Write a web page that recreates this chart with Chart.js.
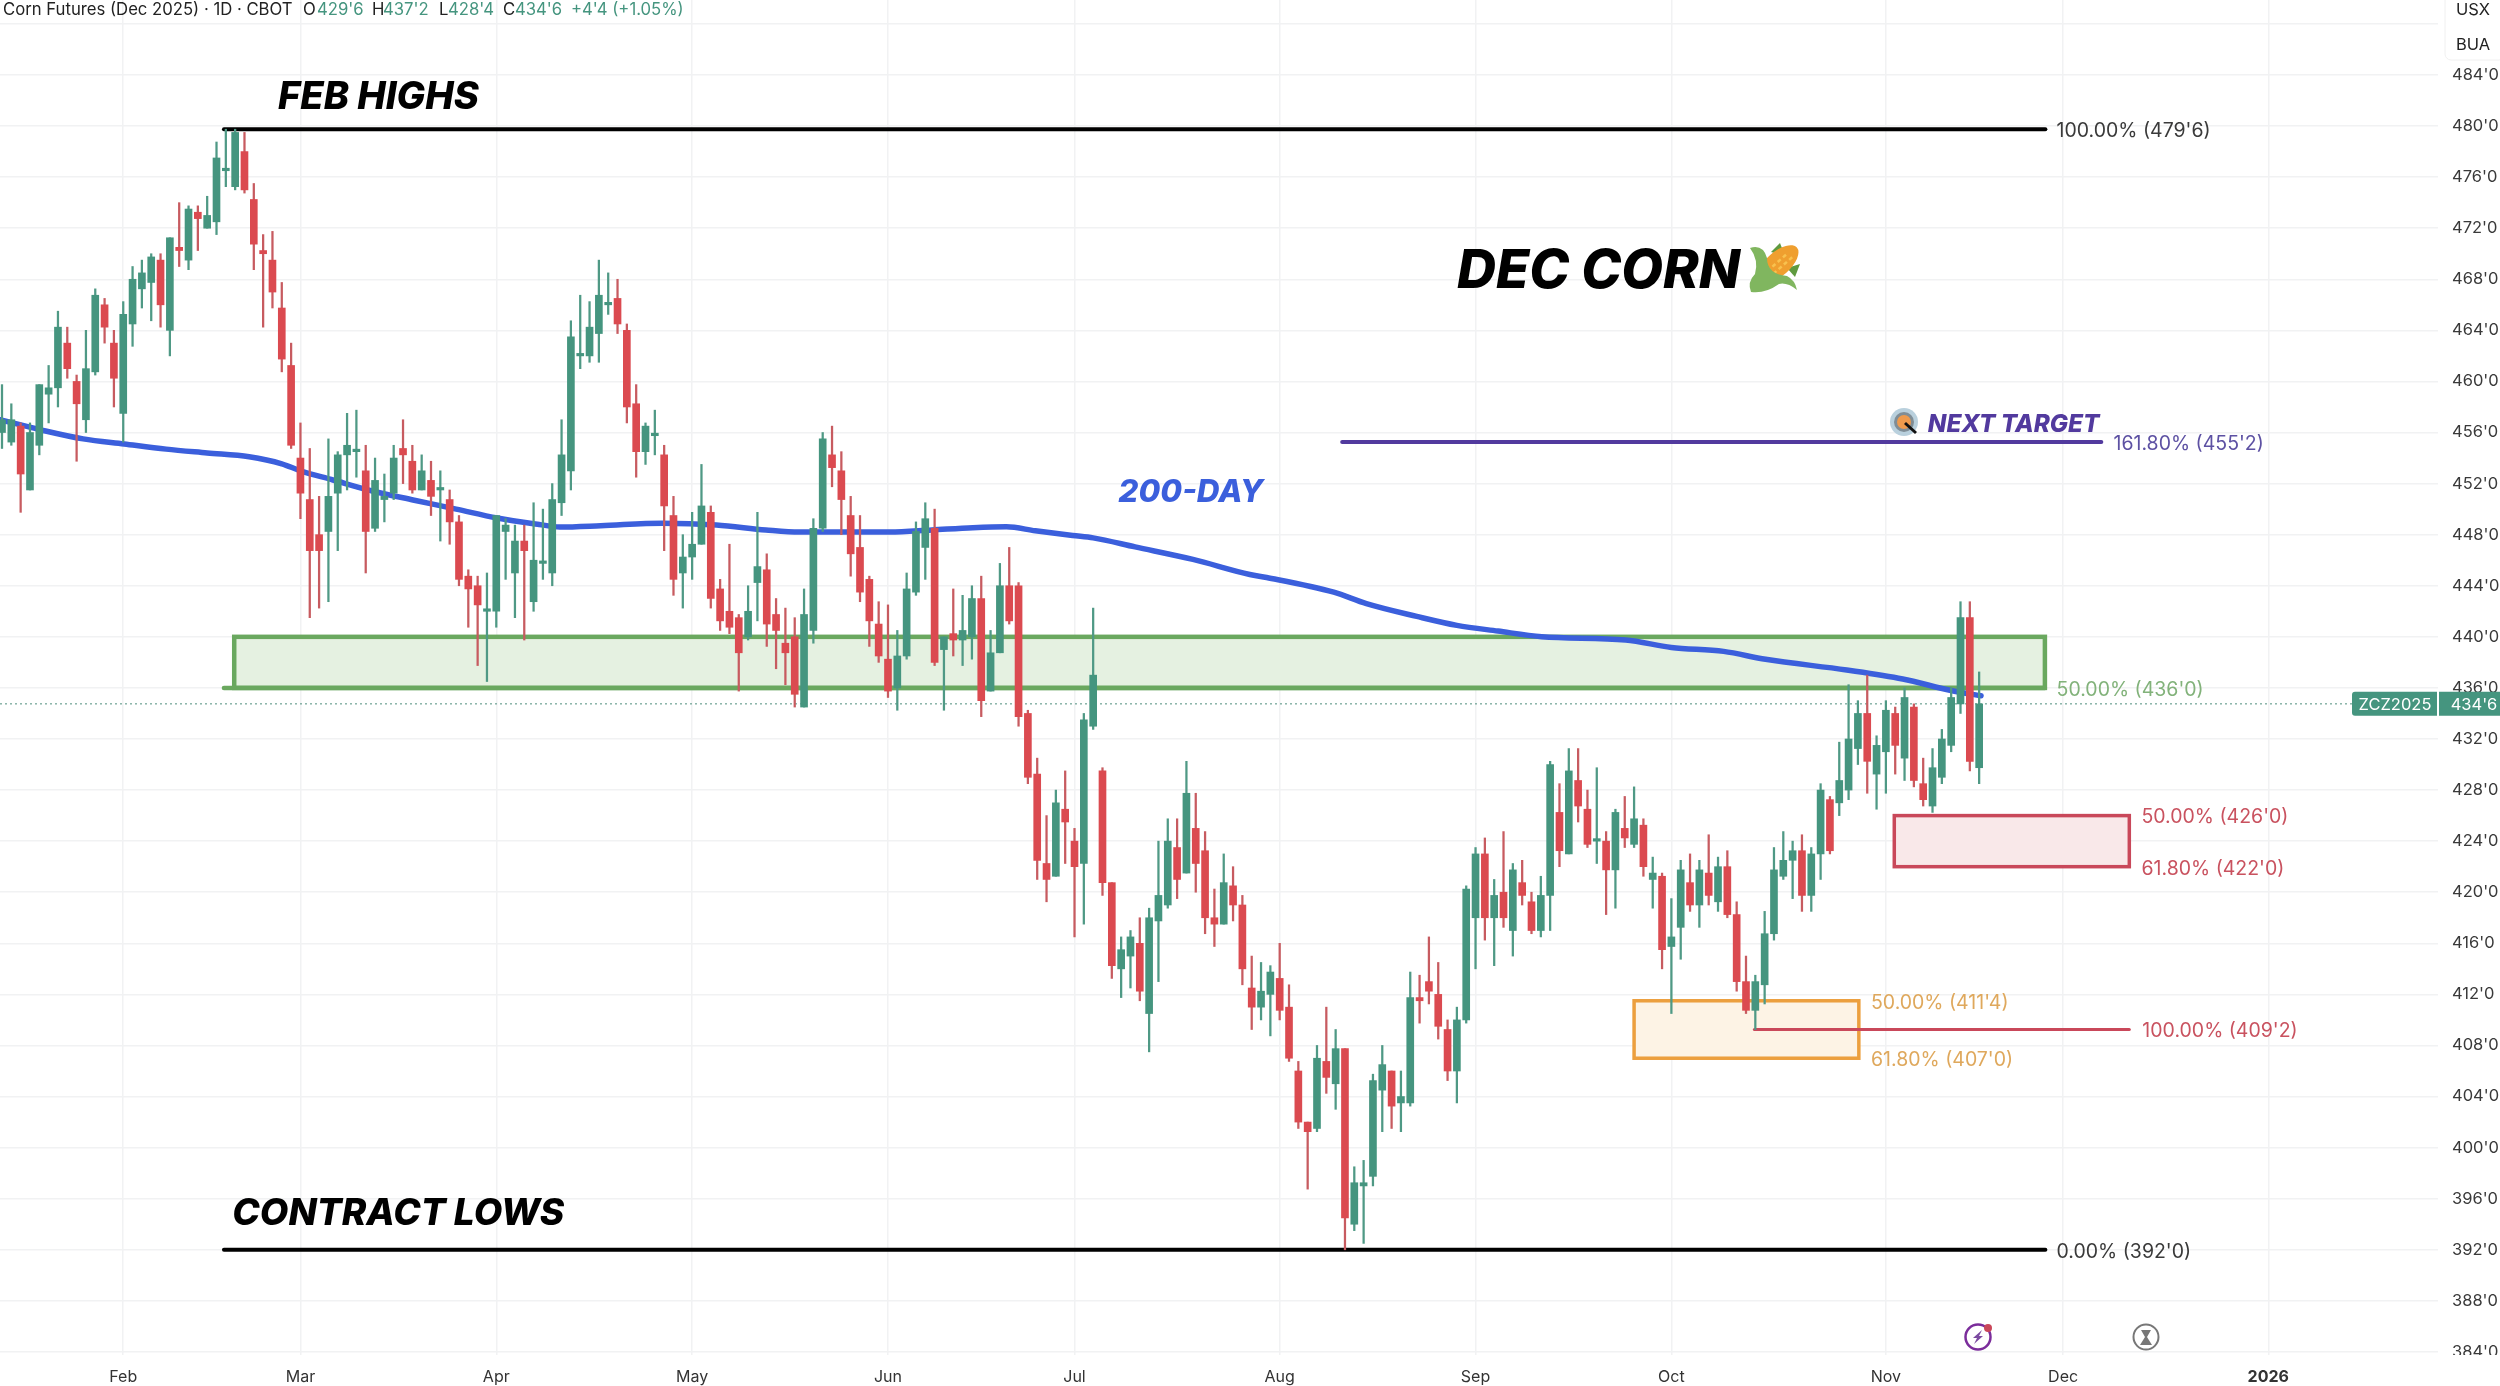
<!DOCTYPE html>
<html><head><meta charset="utf-8">
<style>html,body{margin:0;padding:0;background:#fff}canvas{display:block}</style>
<script src="https://cdn.jsdelivr.net/npm/chart.js@4/dist/chart.umd.js"></script>
</head><body><canvas id="c" width="2500" height="1386"></canvas>
<script>
const opens=[456,455.25,456.5,451.5,455,459,459.5,463,460,457,
460.75,466,463,457.5,464.5,467.25,467.75,469.5,464,470.5,
469.5,473.25,472,472.5,476.5,475.25,478,474.25,470.25,469.5,
465.75,461.25,454,450.75,448,448.25,451.25,454.25,454.5,453,
448.5,450.75,451.25,454.75,453.75,451.5,452.25,451.5,450.75,449,
444.75,444,442,442,448.25,445,447.5,442.75,445.75,445,
450.5,453,462,462,463.75,466,466.5,464,458.25,454.5,
455.75,454.25,449.5,445,446.25,447.25,449.75,443.75,442,441.5,
440,444.25,445.25,441.75,439.5,440,434.5,440.5,448.5,454.25,
453,449.5,447,444.5,441,438.25,436,438.5,443.5,447,
448.5,439,440.25,439.75,440,443,435.75,438.75,444,444,
434,429.25,422.25,421.25,426.5,424,422.25,433,429.5,420.75,
414,415,416,410.5,417.75,419,423.5,421.5,425,423.25,
418,417.5,420.5,419,412.5,411,412,413.25,411,406,
402,401.5,406.75,405,407.75,394,397,397.75,404.5,406,
403.5,403.5,411.75,413,412,409.25,406,410,418,423,
418,420,417,420.75,419.25,417,419.75,426.25,423,428.75,
426.5,424,424,421.75,425,423.75,425.25,421,421.25,415.75,
417.25,420.75,419,421.5,419.25,422,418.25,413,410.75,412.75,
416.75,421.25,422.5,423.25,419.75,423,427.25,427,428,431.25,
434,429.25,431,434,430.5,434.5,428.5,426.75,429,431.5,
434.75,441.5,429.75];
const highs=[459.75,458.25,456.75,456.75,459.75,461.25,465.5,464.25,460.5,464,
467.25,466.5,464,466.25,469,469.5,470,470,471.25,474,
473.75,473.75,474.5,478.75,479.75,479.75,479.5,475.5,471.5,471.75,
467.75,463,456.75,454.75,451,455.5,454.5,457.5,457.75,455,
454,452.75,455,457,455,454.25,453.75,453,451.5,449.5,
445.25,444.75,445,449.5,449.25,448.75,448.75,450.5,450,452,
457,464.75,466.75,466.25,469.5,468.5,468,464.5,459.75,456.75,
457.75,455,451,448,449.75,453.5,450.25,444.5,447.25,441.75,
444,449.75,446.5,443,442.25,441.5,443.75,449.25,456,456.5,
454.5,451,449.5,444.75,442.75,442.5,440.5,445,449,450.5,
450,440,443.75,443.25,444,444.75,440.5,445.75,447,444.25,
434.25,430.5,426,428,429.5,425,434,442.25,429.75,420.75,
416.5,417,418,418.75,424,425.75,425.75,430.25,427.75,424.75,
420.25,423,422,419.75,415,414.5,414.25,416,412.75,406.75,
402,408,411,409.25,407.75,398.5,399,405.75,408,406,
406,413.75,413.5,416.5,414.5,410,411,420.5,423.5,424.25,
421,424.75,422.25,422.5,420,421.25,430.25,428.5,431.25,431.25,
428,429.75,424.75,426.5,427.5,428.25,425.75,422.75,421.5,419.5,
422.5,423,422.5,424.5,422.75,423.25,419.25,415,413.5,418.5,
423.5,424.75,424,424.5,423.5,428.5,427.5,431.75,436.25,435,
437,432.25,435,434.5,436,434.75,430.5,431.25,432.75,436,
442.75,442.75,437.25];
const lows=[454.75,455,449.75,451.5,454.25,456.75,458,460.25,453.75,456,
460.5,463,458,455.25,462.75,465.75,464.75,464.25,462,469,
468.75,470.25,472,471.5,475.25,475,474.75,468.75,464.25,465.75,
460.75,454.75,449.25,441.5,442.25,442.75,446.75,451.5,452.5,445,
448.25,449,450.75,452,451.25,451.5,449.5,447.5,447.25,444,
440.75,437.75,436.5,440.75,444.5,441.5,439.75,442,444.5,444,
449.5,451.5,461,461.5,461.5,465.25,463.75,456.75,452.5,453.5,
454.25,446.75,443.25,442.25,444.5,447.25,442.25,440.5,440.25,435.75,
439.75,441.25,439.25,437.5,436.25,434.5,434.5,439.5,448.25,451.75,
448,444.75,442.75,439.25,438,435.25,434.25,438.25,443.25,444.5,
437.75,434.25,438.5,437.75,438.25,433.75,435.75,438.75,441,433,
428.5,421,419.25,421.25,422.25,416.5,417.5,432.75,419.75,413.25,
411.75,412.5,411.5,407.5,413,418.75,419.5,421.5,420,416.75,
415.75,417.5,417.75,412.75,409.25,410,408.75,410,406.75,401.5,
396.75,401.25,404.25,403,392,393.5,392.5,397,401.25,401.5,
401.25,403.25,409.75,411.25,408.5,405.25,403.5,409.75,414,416.25,
414.25,417.25,415,419,416.75,416.5,417,422,423,425.5,
423.5,422.25,418.25,418.75,423.5,423.5,421.25,418.75,414,410.5,
414.75,418.5,417.25,419,418.5,418,412.25,410.5,409.25,411.25,
416.25,421,419.5,418.5,418.5,421,423,426,427.25,430,
427.75,426.5,427.75,429.25,428.75,428.25,426.75,426.25,428.5,431,
434,429.5,428.5];
const closes=[457,457,452.75,456,459.75,459.5,464.25,461,458.25,461,
466.75,464.25,460.25,465.25,468,468.5,469.75,466,471.25,470.25,
473.5,472.75,473,477.5,476.5,479.5,475,470.75,470,467,
461.75,455,451.25,446.75,446.75,451,454.25,455,454.5,448.25,
452.25,451,454,454.25,451.5,453,451,451.5,449,444.5,
443.75,442.5,442,449.5,448.75,447.5,446.75,446,445.75,450.75,
454.25,463.5,462,464.25,466.75,466,464.5,458,454.5,456.5,
455.75,450.25,444.5,446.25,447.25,450.25,443,441.25,440.75,438.75,
442,445.5,441,440.5,438.75,435.5,441.75,448.5,455.5,453.25,
450.75,446.5,443.5,441.25,438.5,435.75,438.5,443.75,448.25,449.25,
438,440,439.75,440.5,443,435,438.75,444,441.25,433.75,
429,422.5,421,427,425.5,422,433.5,437,420.75,414.25,
415.5,416.5,412.25,418,419.75,424,421,427.75,422.25,418,
417.5,420.75,419,414,411,412.25,413.75,410.75,407,402,
401.25,407,405.5,407.75,394.5,397.25,397.25,405.25,406.5,403.25,
404,411.75,411.5,412.25,409.5,406,410,420.25,423,418,
419.75,418,421.75,419.75,417,419.75,430,423.25,429.5,426.75,
423.75,424,421.75,426.25,424.25,425.75,422,421.5,415.5,416.5,
421.75,419,421.75,419.75,422,418.25,413,410.75,413,416.75,
421.75,422.5,423.25,419.75,423,428,423.25,428.75,432,434,
430.25,431.5,434.25,431.5,435.25,428.75,427.25,429.75,432,435.25,
441.5,430.25,434.75];

const maIndex=[-0.2,4.2,8.7,13.1,17.6,22,26.5,30,32,35.4,39.8,44.2,48.7,53.1,57.6,59.8,64.2,70.8,76.6,81.9,85.5,95.2,99.7,104.1,107.7,110.8,114.8,117,121.5,127.7,133.8,135.6,142.8,146.3,151.7,156,160.4,165.1,174.1,179,184.6,189.1,197.8,203.8,209.1,212.2];
const maValues=[457,456.2,455.5,455.1,454.7,454.4,454.1,453.55,453,452.3,451.4,450.7,450,449.3,448.8,448.6,448.7,448.9,448.76,448.37,448.2,448.2,448.37,448.55,448.62,448.3,447.93,447.75,447.04,446.06,444.88,444.65,443.5,442.6,441.6,440.9,440.45,440.01,439.75,439.17,438.86,438.24,437.4,436.7,435.78,435.39];

const monthIndex=[13,32,53,74,95,115,137,158,179,202,221,243];
const monthLabels=['Feb','Mar','Apr','May','Jun','Jul','Aug','Sep','Oct','Nov','Dec','2026'];
const priceTicks=[384,388,392,396,400,404,408,412,416,420,424,428,432,436,440,444,448,452,456,460,464,468,472,476,480,484,488];

const GREEN='#45957f',RED='#db4a50',FONT='Inter, "Noto Sans", sans-serif';

const fibLines=[
 {x0:23.8,x1:219.1,y:479.75,color:'#000000',w:4},
 {x0:23.8,x1:219.1,y:392,color:'#000000',w:4},
 {x0:23.8,x1:219.05,y:436,color:'#6aa85f',w:4.5},
 {x0:143.7,x1:225.1,y:455.25,color:'#523a9e',w:4},
 {x0:187.9,x1:228.1,y:409.25,color:'#c9485a',w:3}
];
const zones=[
 {x0:24.9,x1:219.05,top:440,bottom:436,line:'#6aa85f',fill:'#e5f1e1',w:4.5},
 {x0:202.9,x1:228.1,top:426,bottom:422,line:'#c9485a',fill:'#f9e8e9',w:3.5},
 {x0:175,x1:199.1,top:411.5,bottom:407,line:'#ec9f3e',fill:'#fdf3e5',w:3.5}
];
const levelLabels=[
 {x:220.3,y:479.75,t:"100.00% (479'6)",c:'#3a3a3a'},
 {x:226.4,y:455.25,t:"161.80% (455'2)",c:'#5d51a3'},
 {x:220.3,y:436,t:"50.00% (436'0)",c:'#82b27a'},
 {x:229.4,y:426,t:"50.00% (426'0)",c:'#c9525f'},
 {x:229.4,y:422,t:"61.80% (422'0)",c:'#c9525f'},
 {x:229.5,y:409.25,t:"100.00% (409'2)",c:'#c9525f'},
 {x:200.4,y:411.5,t:"50.00% (411'4)",c:'#dfa85c'},
 {x:200.4,y:407,t:"61.80% (407'0)",c:'#dfa85c'},
 {x:220.3,y:392,t:"0.00% (392'0)",c:'#3a3a3a'}
];
const bigLabels=[
 {x:29.6,y:482.25,t:'FEB HIGHS',c:'#000',s:38},
 {x:24.7,y:394.85,t:'CONTRACT LOWS',c:'#000',s:37},
 {x:156,y:468.55,t:'DEC CORN',c:'#000',s:54},
 {x:119.7,y:451.28,t:'200-DAY',c:'#3b5fdc',s:31.5},
 {x:206.5,y:456.64,t:'NEXT TARGET',c:'#523a9e',s:24.3}
];
const lastPrice=434.75;

function corn(ctx,x,y){
 ctx.save();ctx.translate(x,y);
 ctx.fillStyle='#5f9a3f';
 ctx.beginPath();ctx.moveTo(-4,-16);ctx.lineTo(5,-25);ctx.lineTo(10,-12);ctx.fill();
 ctx.beginPath();ctx.moveTo(12,0);ctx.lineTo(25,-4);ctx.lineTo(20,9);ctx.fill();
 ctx.save();ctx.rotate(-0.72);ctx.fillStyle='#ef9f2f';
 ctx.beginPath();ctx.ellipse(5,-1,25,12,0,0,Math.PI*2);ctx.fill();
 ctx.fillStyle='#f8c24f';
 for(let i=-8;i<20;i+=7){ctx.fillRect(i,-4,4,2.5);ctx.fillRect(i+3,2,4,2.5);}
 ctx.restore();
 ctx.fillStyle='#80b65f';
 ctx.beginPath();ctx.moveTo(-25,-20);ctx.quadraticCurveTo(-12,-24,-8,-10);ctx.quadraticCurveTo(-8,6,12,8);
 ctx.quadraticCurveTo(20,12,22,22);ctx.quadraticCurveTo(12,14,4,16);ctx.quadraticCurveTo(-10,26,-24,24);
 ctx.quadraticCurveTo(-28,14,-20,6);ctx.quadraticCurveTo(-16,-8,-25,-20);ctx.fill();
 ctx.restore();
}
function target(ctx,x,y){
 ctx.save();
 ctx.fillStyle='#b9d0dd';ctx.beginPath();ctx.arc(x,y,14,0,7);ctx.fill();
 ctx.fillStyle='#7f8d96';ctx.beginPath();ctx.arc(x,y,10,0,7);ctx.fill();
 ctx.fillStyle='#ee9a4d';ctx.beginPath();ctx.arc(x,y,7,0,7);ctx.fill();
 ctx.strokeStyle='#111';ctx.lineWidth=3;ctx.beginPath();ctx.moveTo(x+1,y+1);ctx.lineTo(x+12,y+11);ctx.stroke();
 ctx.restore();
}
function iconBolt(ctx,x,y){
 ctx.save();ctx.strokeStyle='#7b2d9b';ctx.lineWidth=2.5;ctx.beginPath();ctx.arc(x,y,12.5,0,7);ctx.stroke();
 ctx.fillStyle='#7b4aa0';ctx.beginPath();ctx.moveTo(x+4,y-7);ctx.lineTo(x-5,y+1);ctx.lineTo(x-1,y+1);ctx.lineTo(x-4,y+7);ctx.lineTo(x+5,y-1);ctx.lineTo(x+1,y-1);ctx.closePath();ctx.fill();
 ctx.fillStyle='#c9475a';ctx.beginPath();ctx.arc(x+10,y-9,4,0,7);ctx.fill();ctx.restore();
}
function iconGlass(ctx,x,y){
 ctx.save();ctx.strokeStyle='#777';ctx.lineWidth=2;ctx.beginPath();ctx.arc(x,y,12.5,0,7);ctx.stroke();
 ctx.fillStyle='#777';ctx.beginPath();ctx.moveTo(x-5,y-7);ctx.lineTo(x+5,y-7);ctx.lineTo(x+1,y);ctx.lineTo(x+6,y+8);ctx.lineTo(x-6,y+8);ctx.lineTo(x-1,y);ctx.closePath();ctx.fill();ctx.restore();
}

const overlay={id:'overlay',
 beforeDatasetsDraw(ch){
  const c=ch.ctx,X=ch.scales.x,Y=ch.scales.y;c.save();
  zones.forEach(z=>{
   const l=X.getPixelForValue(z.x0),r=X.getPixelForValue(z.x1),t=Y.getPixelForValue(z.top),b=Y.getPixelForValue(z.bottom);
   c.fillStyle=z.fill;c.fillRect(l,t,r-l,b-t);
   c.strokeStyle=z.line;c.lineWidth=z.w;c.strokeRect(l,t,r-l,b-t);
  });
  c.restore();
 },
 afterDraw(ch){
  const c=ch.ctx,X=ch.scales.x,Y=ch.scales.y;c.save();
  c.textBaseline='middle';c.textAlign='left';
  levelLabels.forEach(l=>{c.font='400 19.5px '+FONT;c.fillStyle=l.c;c.fillText(l.t,X.getPixelForValue(l.x),Y.getPixelForValue(l.y)+2);});
  bigLabels.forEach(l=>{c.font='italic 800 '+l.s+'px '+FONT;c.fillStyle=l.c;c.fillText(l.t,X.getPixelForValue(l.x),Y.getPixelForValue(l.y));});
  corn(c,1775,268);target(c,1904,422);iconBolt(c,1978,1337);iconGlass(c,2146,1337);
  // clip of the axis bottom
  c.fillStyle='#fff';c.fillRect(2440,1355,60,31);
  // price tag
  const py=Y.getPixelForValue(lastPrice);
  c.fillStyle=GREEN;
  c.beginPath();c.roundRect(2352,py-12,85,24,[3,0,0,3]);c.fill();
  c.beginPath();c.rect(2439,py-12,61,24);c.fill();
  c.fillStyle='#fff';c.font='16.5px '+FONT;c.textAlign='center';
  c.fillText('ZCZ2025',2395,py+1);c.fillText("434'6",2474,py+1);
  // header
  c.textAlign='left';c.font='16.7px '+FONT;
  const hdr=[['Corn Futures (Dec 2025) · 1D · CBOT',3,'#222'],['O',303,'#222'],["429'6",317,GREEN],['H',372,'#222'],["437'2",383,GREEN],['L',439,'#222'],["428'4",448,GREEN],['C',503,'#222'],["434'6",515,GREEN],["+4'4 (+1.05%)",571,GREEN]];
  hdr.forEach(h=>{c.fillStyle=h[2];c.fillText(h[0],h[1],10);});
  // currency / unit box
  c.fillStyle='#fff';c.strokeStyle='#f0f0f0';c.lineWidth=1;
  c.beginPath();c.roundRect(2445,-6,60,66,6);c.fill();c.stroke();
  c.fillStyle='#222';c.font='16.5px '+FONT;c.textAlign='center';
  c.fillText('USX',2473,10);c.fillText('BUA',2473,45);
  c.restore();
 }
};

new Chart(document.getElementById('c'),{
 type:'bar',
 plugins:[overlay],
 data:{datasets:[
  {type:'bar',label:'body',order:1,grouped:false,barThickness:7,minBarLength:2.5,borderWidth:0,
   data:opens.map((o,i)=>({x:i,y:[o,closes[i]]})),
   backgroundColor:ctx=>closes[ctx.dataIndex]>=opens[ctx.dataIndex]?GREEN:RED},
  {type:'bar',label:'wick',order:2,grouped:false,barThickness:1.6,borderWidth:0,
   data:lows.map((l,i)=>({x:i,y:[l,highs[i]]})),
   backgroundColor:ctx=>closes[ctx.dataIndex]>=opens[ctx.dataIndex]?'#4f9985':'#c75b60'},
  {type:'line',label:'200-DAY',order:3,data:maIndex.map((x,i)=>({x,y:maValues[i]})),borderColor:'#3b5fdc',borderWidth:5.5,pointRadius:0,cubicInterpolationMode:'monotone',borderCapStyle:'round'},
  ...fibLines.map((f,i)=>({type:'line',label:'fib'+i,order:4,data:[{x:f.x0,y:f.y},{x:f.x1,y:f.y}],borderColor:f.color,borderWidth:f.w,pointRadius:0,borderCapStyle:'round'})),
  {type:'line',label:'last',order:5,data:[{x:-0.2145,y:lastPrice},{x:252,y:lastPrice}],borderColor:'#4f8f7e',borderWidth:1,borderDash:[2,3],pointRadius:0}
 ]},
 options:{
  responsive:false,animation:false,devicePixelRatio:1,
  layout:{padding:0,autoPadding:false},
  plugins:{legend:{display:false},tooltip:{enabled:false}},
  scales:{
   x:{type:'linear',offset:false,min:-0.2145,max:261.2,
    grid:{color:'#f1f2f3',lineWidth:1.5,offset:false,drawTicks:false},border:{display:false},
    afterBuildTicks(s){s.ticks=monthIndex.map(v=>({value:v}));},
    afterFit(s){s.height=31;s.paddingLeft=0;s.paddingRight=0;},
    ticks:{autoSkip:false,maxRotation:0,padding:13,color:'#333',
     font:c=>({family:FONT,size:16,weight:c.tick&&monthLabels[monthIndex.indexOf(c.tick.value)]==='2026'?'700':'400'}),
     callback:v=>monthLabels[monthIndex.indexOf(v)]}},
   y:{type:'linear',position:'right',min:383.76,max:489.87,
    grid:{color:'#f1f2f3',lineWidth:1.5,drawTicks:false},border:{display:false},
    afterBuildTicks(s){s.ticks=priceTicks.map(v=>({value:v}));},
    afterFit(s){s.width=62;s.paddingTop=0;s.paddingBottom=0;},
    ticks:{autoSkip:false,padding:14,color:'#3a3a3a',font:{family:FONT,size:16.5},
     callback:v=>v===488?'':v+"'0"}}
  }
 }
});
</script></body></html>
